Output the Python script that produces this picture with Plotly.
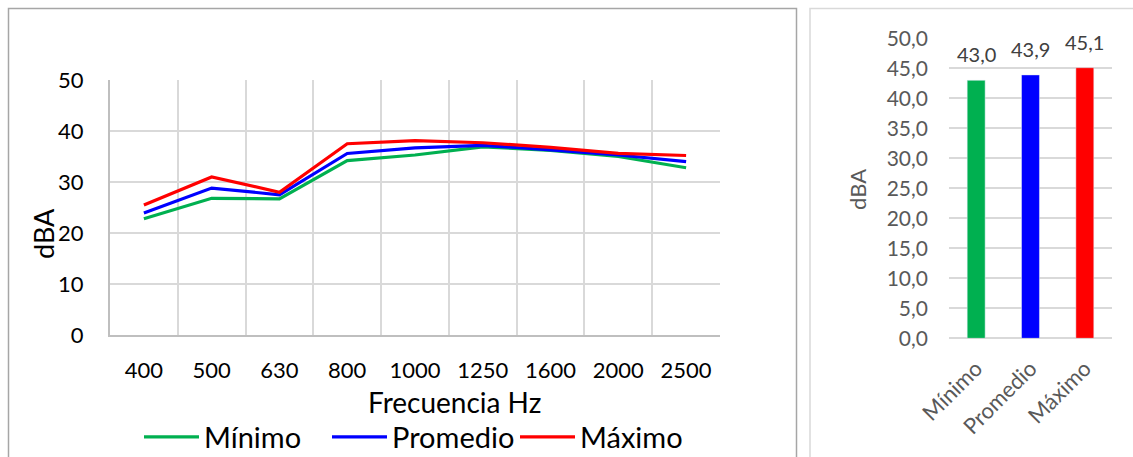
import plotly.graph_objects as go

# ---- data ----
frequencies = ["400", "500", "630", "800", "1000", "1250", "1600", "2000", "2500"]
minimo = [22.8, 26.8, 26.7, 34.2, 35.3, 36.9, 36.2, 35.0, 32.8]
promedio = [23.9, 28.8, 27.5, 35.6, 36.7, 37.2, 36.3, 35.3, 34.0]
maximo = [25.5, 31.0, 28.0, 37.5, 38.1, 37.7, 36.8, 35.6, 35.2]

summary_labels = ["Mínimo", "Promedio", "Máximo"]
summary_values = [43.0, 43.9, 45.1]

series_names = ["Mínimo", "Promedio", "Máximo"]
colors = ["#00b050", "#0000ff", "#ff0000"]

W, H = 1133, 457
FONT = "Lato"


def px_x(p):
    return p / W


def px_y(p):
    return 1 - p / H


fig = go.Figure()

for name, vals, col in zip(series_names, [minimo, promedio, maximo], colors):
    fig.add_trace(go.Scatter(
        x=frequencies, y=vals, name=name, mode="lines",
        line=dict(color=col, width=3.2),
        xaxis="x", yaxis="y", showlegend=True,
    ))

fig.add_trace(go.Bar(
    x=summary_labels, y=summary_values, marker_color=colors,
    width=0.33, xaxis="x2", yaxis="y2", showlegend=False,
))

annotations = []
for lab, v in zip(summary_labels, summary_values):
    annotations.append(dict(
        x=lab, y=v, xref="x2", yref="y2",
        text=f"{v:.1f}".replace(".", ","), showarrow=False,
        yanchor="bottom", yshift=12,
        font=dict(family=FONT, size=20, color="#404040"),
    ))

# axis titles
annotations.append(dict(
    x=px_x(454), y=px_y(402), xref="paper", yref="paper",
    text="Frecuencia Hz", showarrow=False, xanchor="center", yanchor="middle",
    font=dict(family=FONT, size=28, color="#000000"),
))
annotations.append(dict(
    x=px_x(43), y=px_y(234), xref="paper", yref="paper",
    text="dBA", showarrow=False, textangle=-90, xanchor="center", yanchor="middle",
    font=dict(family=FONT, size=27, color="#000000"),
))
annotations.append(dict(
    x=px_x(858), y=px_y(190), xref="paper", yref="paper",
    text="dBA", showarrow=False, textangle=-90, xanchor="center", yanchor="middle",
    font=dict(family=FONT, size=22, color="#595959"),
))

shapes = [
    dict(type="rect", xref="paper", yref="paper",
         x0=px_x(8.5), x1=px_x(796.5), y0=-0.1, y1=px_y(8.5),
         line=dict(color="#a6a6a6", width=1.5), fillcolor="rgba(0,0,0,0)", layer="below"),
    dict(type="rect", xref="paper", yref="paper",
         x0=px_x(810), x1=1.1, y0=-0.1, y1=px_y(8.5),
         line=dict(color="#d9d9d9", width=1.5), fillcolor="rgba(0,0,0,0)", layer="below"),
]

fig.update_layout(
    width=W, height=H,
    margin=dict(l=0, r=0, t=0, b=0, autoexpand=False),
    paper_bgcolor="white", plot_bgcolor="white",
    separators=",.",
    font=dict(family=FONT, color="#000000"),
    shapes=shapes,
    annotations=annotations,
    legend=dict(
        orientation="h", x=px_x(139), y=px_y(437), xanchor="left", yanchor="middle",
        font=dict(family=FONT, size=29, color="#000000"),
        itemwidth=55, bgcolor="rgba(0,0,0,0)", tracegroupgap=0,
        entrywidth=118, entrywidthmode="pixels",
    ),
    xaxis=dict(
        domain=[px_x(110), px_x(720)], anchor="y",
        type="category", range=[-0.5, 8.5], tickson="boundaries",
        showgrid=True, gridcolor="#d9d9d9", gridwidth=2,
        showline=True, linecolor="#bfbfbf", linewidth=2,
        ticks="", ticklabelstandoff=15,
        tickfont=dict(family=FONT, size=22, color="#000000"),
        automargin=False, fixedrange=True,
    ),
    yaxis=dict(
        domain=[px_y(335), px_y(80)], anchor="x",
        range=[0, 50], dtick=10, tick0=0,
        showgrid=True, gridcolor="#d9d9d9", gridwidth=2,
        showline=True, linecolor="#bfbfbf", linewidth=2,
        zeroline=False, ticks="", ticklabelstandoff=20,
        tickfont=dict(family=FONT, size=22, color="#000000"),
        automargin=False, fixedrange=True,
    ),
    xaxis2=dict(
        domain=[px_x(949), px_x(1112)], anchor="y2",
        type="category", range=[-0.5, 2.5],
        showgrid=False, showline=False, ticks="",
        tickangle=-45, ticklabelstandoff=12,
        tickfont=dict(family=FONT, size=22, color="#595959"),
        automargin=False, fixedrange=True,
    ),
    yaxis2=dict(
        domain=[px_y(338.3), px_y(38.3)], anchor="x2",
        range=[0, 50], dtick=5, tick0=0, tickformat=".1f",
        showgrid=True, gridcolor="#d9d9d9", gridwidth=1.5,
        zeroline=True, zerolinecolor="#d9d9d9", zerolinewidth=1.5,
        showline=False, ticks="", ticklabelstandoff=20,
        tickfont=dict(family=FONT, size=21, color="#595959"),
        automargin=False, fixedrange=True,
    ),
)

fig.write_html("out.html")
